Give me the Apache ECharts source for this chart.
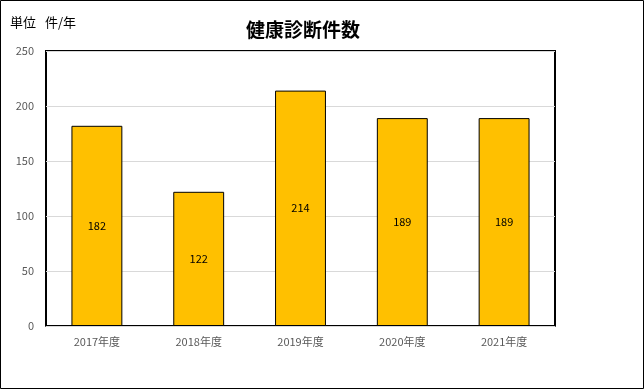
<!DOCTYPE html>
<html><head><meta charset="utf-8">
<script src="https://cdn.jsdelivr.net/npm/echarts@6/dist/echarts.min.js"></script>
<style>html,body{margin:0;padding:0;background:#fff}#c{width:644px;height:389px}</style>
</head><body><div id="c"></div>
<script>
const categories = ['2017年度','2018年度','2019年度','2020年度','2021年度'];
const values = [182, 122, 214, 189, 189];
const yTicks = {min: 0, max: 250, interval: 50};
const titleText = '健康診断件数';
const unitLabel = '単位';
const unitText = '件/年';

const chart = echarts.init(document.getElementById('c'), null, {renderer: 'canvas'});
const font = '"Noto Sans CJK JP", "Noto Sans", sans-serif';
chart.setOption({
  animation: false,
  backgroundColor: '#fff',
  title: {
    text: titleText, left: 298, top: 15, textAlign: 'center',
    textStyle: {fontSize: 19, fontWeight: 'bold', color: '#000', fontFamily: font}
  },
  graphic: [
    {type: 'rect', shape: {x: 0.5, y: 0.5, width: 643, height: 388}, style: {fill: 'none', stroke: '#000', lineWidth: 1}, z: 100},
    {type: 'text', left: 10, top: 16, style: {text: unitLabel, fontSize: 13, fill: '#000', fontFamily: font}},
    {type: 'text', left: 45, top: 16, style: {text: unitText, fontSize: 13, fill: '#000', fontFamily: font}}
  ],
  grid: {left: 46, right: 89, top: 51, bottom: 63, show: true, borderColor: '#000', borderWidth: 2, backgroundColor: 'transparent'},
  xAxis: {
    type: 'category', data: categories,
    axisLine: {show: true, lineStyle: {color: '#d9d9d9'}},
    axisTick: {show: false},
    axisLabel: {color: '#595959', fontSize: 11, margin: 10, fontFamily: font}
  },
  yAxis: {
    type: 'value', min: yTicks.min, max: yTicks.max, interval: yTicks.interval,
    axisLine: {show: false}, axisTick: {show: false},
    axisLabel: {color: '#595959', fontSize: 11, margin: 12, fontFamily: font},
    splitLine: {lineStyle: {color: '#d9d9d9', width: 1}}
  },
  series: [{
    type: 'bar', data: values, barWidth: '50%',
    itemStyle: {color: '#FFC000', borderColor: '#000', borderWidth: 1},
    label: {show: true, position: 'inside', color: '#000', fontSize: 11, fontFamily: font}
  }]
});
</script></body></html>
